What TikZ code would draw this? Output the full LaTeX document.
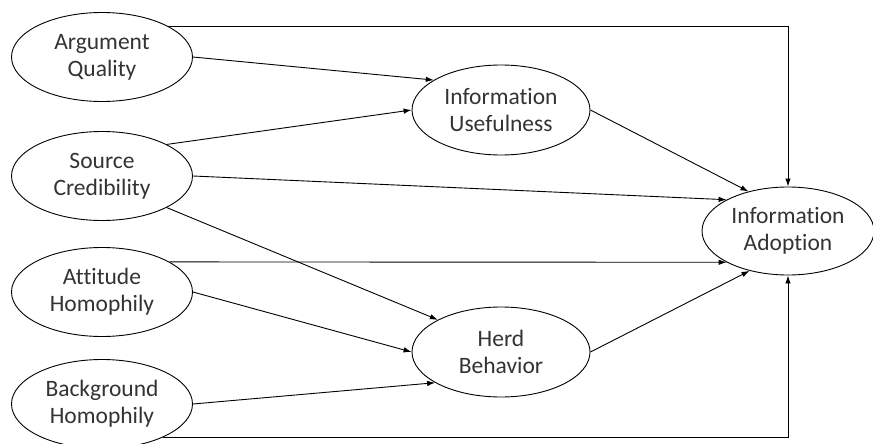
\documentclass[tikz,border=0pt]{standalone}
\usepackage{fontspec}
\setmainfont{Carlito}[Ligatures=NoCommon]
\usetikzlibrary{shapes.geometric,arrows.meta}
\tikzset{%
  var/.style={ellipse,draw,line width=.9pt,minimum width=181pt,minimum height=89pt,
    inner sep=0pt,align=center,text=black!80,font=\fontsize{23.5}{27}\selectfont},
  link/.style={-{Latex[length=8pt,width=5.5pt]},line width=.9pt}
}

\begin{document}
\begin{tikzpicture}[x=1pt,y=-1pt]
  \useasboundingbox (0,0) rectangle (873,444);

  \node[var] (aq) at (102,57) {Argument\\Quality};
  \node[var] (sc) at (102,176) {Source\\Credibility};
  \node[var] (ah) at (102,292) {Attitude\\Homophily};
  \node[var] (bh) at (102,404) {Background\\Homophily};

  \node[var,minimum width=178pt,minimum height=90pt] (iu) at (501,110) {Information\\Usefulness};
  \node[var,minimum width=178pt,minimum height=90pt] (hb) at (501,352) {Herd\\Behavior};
  \node[var,minimum width=172pt,minimum height=88pt] (ia) at (788,231) {Information\\Adoption};

  \draw[link] (aq.east) -- (iu.156);
  \draw[link] (sc.26) -- (iu.west);
  \draw[link] (sc.east) -- (ia.153);
  \draw[link] (sc.334) -- (hb.153);
  \draw[link] (ah.24) -- (ia.207);
  \draw[link] (ah.east) -- (hb.west);
  \draw[link] (bh.east) -- (hb.205);
  \draw[link] (iu.east) -- (ia.135);
  \draw[link] (hb.east) -- (ia.226);

  % direct paths round the outside
  \draw[link] (aq.25) -| (ia.north);
  \draw[link] (bh.331) -| (ia.south);
\end{tikzpicture}
\end{document}
